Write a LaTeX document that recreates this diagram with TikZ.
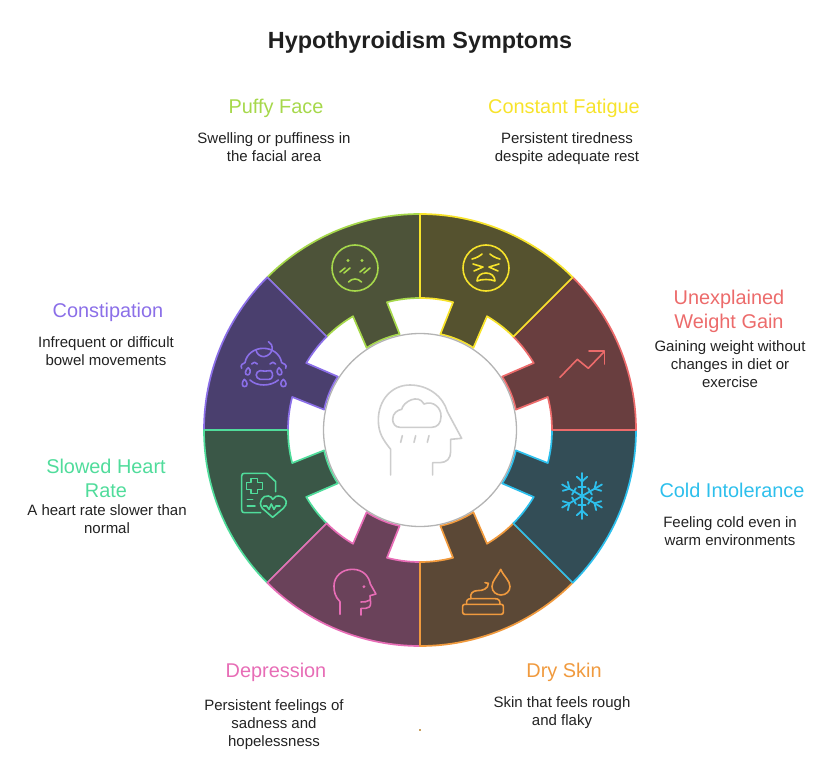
\documentclass[tikz,border=0pt]{standalone}
\usepackage{fontspec}
\setmainfont{Liberation Sans}
\definecolor{puffyfill}{HTML}{4D5339}
\definecolor{puffyline}{HTML}{A6D84B}
\definecolor{fatiguefill}{HTML}{55522F}
\definecolor{fatigueline}{HTML}{F7E32B}
\definecolor{gainfill}{HTML}{693E3F}
\definecolor{gainline}{HTML}{EC6B6B}
\definecolor{coldfill}{HTML}{334D56}
\definecolor{coldline}{HTML}{2DBFEC}
\definecolor{dryfill}{HTML}{5B4836}
\definecolor{dryline}{HTML}{F09A3E}
\definecolor{sadfill}{HTML}{6A425A}
\definecolor{sadline}{HTML}{E76DB6}
\definecolor{heartfill}{HTML}{3A5747}
\definecolor{heartline}{HTML}{50DC9B}
\definecolor{stoolfill}{HTML}{4A3F6E}
\definecolor{stoolline}{HTML}{8B6FE8}
\definecolor{hubline}{HTML}{B4B4B4}
\definecolor{brainline}{HTML}{CDCDCD}
\definecolor{bodytext}{HTML}{222222}
\definecolor{speck}{HTML}{C9A060}
\tikzset{
    heading/.style={align=center, font=\fontsize{19.9}{24}\selectfont},
    blurb/.style={align=center, text=bodytext, font=\fontsize{15}{18}\selectfont},
    glyph/.style={line width=1.6pt, line cap=round, line join=round},
}
\begin{document}
\begin{tikzpicture}[x=1pt,y=-1pt]
    \useasboundingbox (0,0) rectangle (840,770);

    % wheel
    \begin{scope}[shift={(420,430)}, y=1pt]
    \foreach \a/\fillc/\linec in {90/puffyfill/puffyline, 135/stoolfill/stoolline,
        180/heartfill/heartline, 225/sadfill/sadline, 270/dryfill/dryline,
        315/coldfill/coldline, 0/gainfill/gainline, 45/fatiguefill/fatigueline} {
        \draw[fill=\fillc, draw=\linec, line width=1.7pt, line join=round]
            (\a:132pt) -- (\a:216pt)
            arc[start angle=\a, end angle=\a+45, radius=216pt]
            -- (\a+45:132pt)
            arc[start angle=\a+45, end angle=\a+30.5, radius=132pt]
            -- (\a+33:98pt)
            arc[start angle=\a+33, end angle=\a+12, radius=98pt]
            -- (\a+14.5:132pt)
            arc[start angle=\a+14.5, end angle=\a, radius=132pt]
            -- cycle;
    }
    \draw[fill=white, draw=hubline, line width=1.3pt] (0,0) circle (96.5pt);
    \end{scope}

    % head with cloud in the middle
    \begin{scope}[shift={(360,370)}, x=0.3333pt, y=-0.3333pt, glyph, brainline]
        \draw (92,315) -- (92,238) .. controls (70,210) and (55,190) .. (55,150)
            .. controls (55,90) and (95,45) .. (150,45)
            .. controls (205,45) and (250,80) .. (262,125)
            -- (305,205) -- (272,208) -- (272,245)
            .. controls (272,265) and (260,278) .. (240,278) -- (218,278) -- (218,315);
        \draw (120,172) .. controls (105,172) and (98,160) .. (98,148)
            .. controls (98,130) and (112,120) .. (125,118)
            .. controls (130,95) and (175,70) .. (192,102)
            .. controls (220,90) and (245,115) .. (243,140)
            .. controls (243,160) and (232,172) .. (215,172) -- cycle;
        \foreach \x in {127,167,207}
            \draw (\x,197) -- (\x-5,217);
    \end{scope}

    % puffy face
    \begin{scope}[shift={(355,268)}, glyph, puffyline]
        \draw (0,0) circle (23pt);
        \fill (-7,-7.5) circle (1.6pt);
        \fill (7,-7.5) circle (1.6pt);
        \draw (-15,4) -- (-10,0);
        \draw (-11,5) -- (-5,0);
        \draw (5,4) -- (10,0);
        \draw (9,5) -- (15,0);
        \draw (-6.5,14) .. controls (-3,10) and (3,10) .. (6.5,14);
    \end{scope}

    % tired face
    \begin{scope}[shift={(486,268)}, glyph, fatigueline]
        \draw (0,0) circle (23pt);
        \draw (-14,-9) .. controls (-9,-10) and (-5,-13) .. (-4,-14);
        \draw (14,-9) .. controls (9,-10) and (5,-13) .. (4,-14);
        \draw (-13,-4) -- (-3,-1) -- (-12,3);
        \draw (13,-4) -- (3,-1) -- (12,3);
        \draw (-9,13) .. controls (-9,8) and (-5,5) .. (0,5)
            .. controls (5,5) and (9,8) .. (9,13)
            .. controls (5,11) and (-5,11) .. (-9,13) -- cycle;
    \end{scope}

    % rising line
    \begin{scope}[shift={(420,200)}, x=0.3333pt, y=-0.3333pt, glyph, gainline]
        \draw (420,532) -- (472,478) -- (505,505) -- (553,455);
        \draw (507,453) -- (553,453) -- (553,492);
    \end{scope}

    % snowflake
    \begin{scope}[shift={(582,496)}, y=1pt, glyph, coldline, line width=1.8pt]
        \foreach \r in {30,90,...,330} {
            \draw (0,0) -- (\r:23pt);
            \draw (\r+15:20pt) -- (\r:14.5pt) -- (\r-15:20pt);
            \draw (\r+22:10pt) -- (\r-22:10pt);
        }
    \end{scope}

    % cream and drop
    \begin{scope}[shift={(420,430)}, x=0.3333pt, y=-0.3333pt, glyph, dryline]
        \draw[rounded corners=2pt] (128,523) rectangle (250,553);
        \draw (140,523) .. controls (138,512) and (142,506) .. (153,506)
            -- (225,506) .. controls (236,506) and (241,512) .. (240,523);
        \draw (153,506) .. controls (148,490) and (160,482) .. (172,482)
            .. controls (190,482) and (205,476) .. (205,460) -- (195,458);
        \draw (242,418) .. controls (232,440) and (216,452) .. (216,470)
            .. controls (216,486) and (230,495) .. (243,495)
            .. controls (258,495) and (270,484) .. (270,470)
            .. controls (270,452) and (252,440) .. (242,418) -- cycle;
    \end{scope}

    % side face
    \begin{scope}[shift={(200,430)}, x=0.3333pt, y=-0.3333pt, glyph, sadline]
        \draw (420,553) -- (420,515) .. controls (405,500) and (402,485) .. (402,468)
            .. controls (402,440) and (425,418) .. (457,418)
            .. controls (490,418) and (507,440) .. (511,462)
            -- (528,492) -- (510,497) -- (512,520)
            .. controls (512,530) and (505,535) .. (497,535)
            -- (483,535) -- (483,555);
        \draw (483,516) .. controls (492,518) and (502,514) .. (510,510);
        \fill (492,470) circle (1.6pt);
    \end{scope}

    % chart with heart
    \begin{scope}[shift={(200,430)}, x=0.3333pt, y=-0.3333pt, glyph, heartline]
        \draw (227,185) -- (227,155) -- (200,130) -- (133,130)
            .. controls (128,130) and (125,133) .. (125,138) -- (125,240)
            .. controls (125,245) and (128,248) .. (133,248) -- (182,248);
        \draw (153,145) -- (173,145) -- (173,158) -- (188,158) -- (188,178)
            -- (173,178) -- (173,191) -- (153,191) -- (153,178) -- (139,178)
            -- (139,158) -- (153,158) -- cycle;
        \draw (142,208) -- (158,208);
        \draw (142,228) -- (165,228);
        \draw (218,262) -- (187,235) .. controls (172,215) and (190,195) .. (205,198)
            .. controls (212,199) and (216,203) .. (218,208)
            .. controls (222,200) and (232,196) .. (242,199)
            .. controls (262,205) and (264,222) .. (250,235) -- cycle;
        \draw (190,228) -- (200,228) -- (207,238) -- (214,222) -- (222,238) -- (228,228) -- (240,228);
    \end{scope}

    % crying baby
    \begin{scope}[shift={(200,200)}, x=0.3333pt, y=-0.3333pt, glyph, stoolline]
        \draw (125,505) .. controls (120,495) and (128,490) .. (135,488)
            .. controls (140,460) and (165,445) .. (190,445)
            .. controls (215,445) and (240,460) .. (245,488)
            .. controls (252,490) and (262,495) .. (257,505);
        \draw (205,425) .. controls (222,432) and (222,465) .. (192,470)
            .. controls (180,470) and (170,462) .. (168,450);
        \draw (155,492) .. controls (160,485) and (167,485) .. (172,492);
        \draw (210,492) .. controls (215,485) and (222,485) .. (227,492);
        \draw (180,512) .. controls (190,516) and (200,512) .. (212,512)
            .. controls (222,520) and (218,538) .. (208,538)
            -- (180,538) .. controls (165,535) and (165,515) .. (180,512) -- cycle;
        \draw (145,503) .. controls (155,510) and (150,525) .. (143,525)
            .. controls (133,525) and (135,510) .. (145,503) -- cycle;
        \draw (237,503) .. controls (227,510) and (232,525) .. (239,525)
            .. controls (249,525) and (247,510) .. (237,503) -- cycle;
        \draw (133,538) .. controls (125,545) and (125,560) .. (133,560)
            .. controls (145,560) and (143,545) .. (133,538) -- cycle;
        \draw (250,538) .. controls (240,545) and (240,560) .. (250,560)
            .. controls (262,560) and (260,545) .. (250,538) -- cycle;
        \draw (150,540) .. controls (170,560) and (212,560) .. (235,540);
    \end{scope}

    % stray speck under the wheel
    \fill[speck] (419,729) rectangle (421,731);

    % labels
    \node[font=\fontsize{23.4}{28}\selectfont\bfseries, text=black!88] (title) at (420,42) {Hypothyroidism Symptoms};

    \node[heading, text=puffyline] (puffyhead) at (276,108) {Puffy Face};
    \node[blurb] (puffytext) at (274,147) {Swelling or puffiness in\\the facial area};

    \node[heading, text=fatigueline] (fatiguehead) at (564,108) {Constant Fatigue};
    \node[blurb] (fatiguetext) at (567,149) {Persistent tiredness\\despite adequate rest};

    \node[heading, text=gainline] (gainhead) at (729,311) {Unexplained\\Weight Gain};
    \node[blurb] (gaintext) at (730,364) {Gaining weight without\\changes in diet or\\exercise};

    \node[heading, text=coldline] (coldhead) at (732,490) {Cold Intolerance};
    \node[blurb] (coldtext) at (730,531) {Feeling cold even in\\warm environments};

    \node[heading, text=dryline] (dryhead) at (564,672) {Dry Skin};
    \node[blurb] (drytext) at (562,713) {Skin that feels rough\\and flaky};

    \node[heading, text=sadline] (sadhead) at (276,672) {Depression};
    \node[blurb] (sadtext) at (274,725) {Persistent feelings of\\sadness and\\hopelessness};

    \node[heading, text=heartline] (hearthead) at (106,478) {Slowed Heart\\Rate};
    \node[blurb] (hearttext) at (107,519) {A heart rate slower than\\normal};

    \node[heading, text=stoolline] (stoolhead) at (108,312) {Constipation};
    \node[blurb] (stooltext) at (106,351) {Infrequent or difficult\\bowel movements};
\end{tikzpicture}
\end{document}
